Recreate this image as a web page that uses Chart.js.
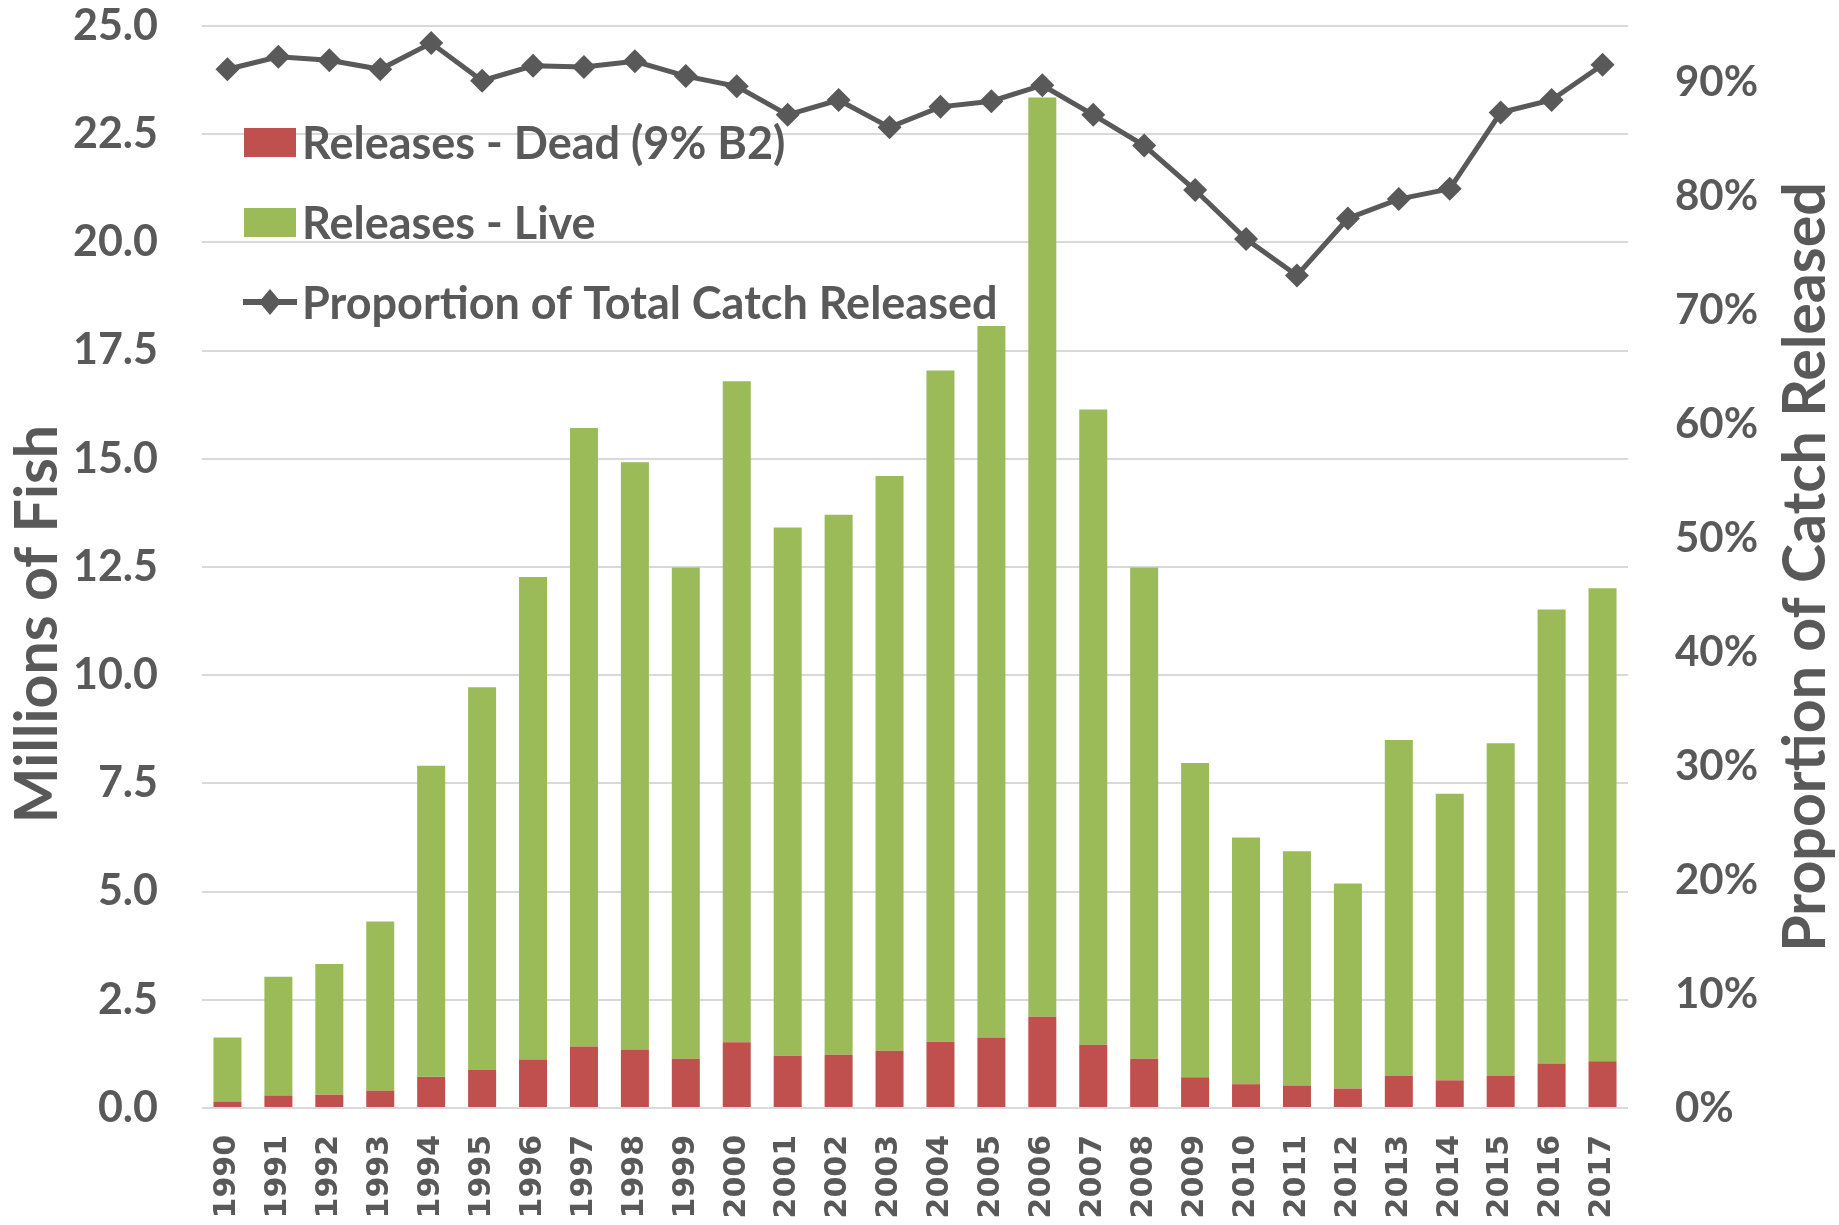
<!DOCTYPE html>
<html>
<head>
<meta charset="utf-8">
<title>Releases and proportion of catch released, 1990-2017</title>
<script src="https://cdn.jsdelivr.net/npm/chart.js@4.4.1/dist/chart.umd.min.js"></script>
<style>
  html, body { margin: 0; padding: 0; background: #fff; }
  #wrap { width: 1839px; height: 1225px; }
</style>
</head>
<body>
<div id="wrap"><canvas id="myChart" width="1839" height="1225"></canvas></div>
<script>
// data
const years = ['1990', '1991', '1992', '1993', '1994', '1995', '1996', '1997', '1998', '1999',
  '2000', '2001', '2002', '2003', '2004', '2005', '2006', '2007', '2008', '2009',
  '2010', '2011', '2012', '2013', '2014', '2015', '2016', '2017'];

// millions of fish
const deadReleases = [0.15, 0.28, 0.31, 0.40, 0.72, 0.88, 1.12, 1.42, 1.35, 1.14,
  1.52, 1.21, 1.23, 1.32, 1.53, 1.63, 2.11, 1.46, 1.14, 0.71,
  0.55, 0.52, 0.45, 0.75, 0.64, 0.74, 1.03, 1.08];
const liveReleases = [1.48, 2.75, 3.02, 3.91, 7.19, 8.84, 11.15, 14.29, 13.57, 11.35,
  15.27, 12.20, 12.48, 13.28, 15.51, 16.44, 21.24, 14.68, 11.35, 7.26,
  5.70, 5.41, 4.74, 7.75, 6.62, 7.69, 10.49, 10.93];

// share of total catch released
const proportionReleased = [0.912, 0.923, 0.920, 0.912, 0.935, 0.902, 0.915, 0.914, 0.919, 0.906,
  0.897, 0.872, 0.885, 0.861, 0.879, 0.884, 0.898, 0.872, 0.845, 0.806,
  0.763, 0.731, 0.781, 0.798, 0.807, 0.874, 0.885, 0.916];

const fishTicks = [0, 2.5, 5, 7.5, 10, 12.5, 15, 17.5, 20, 22.5, 25];
const shareTicks = [0, 0.1, 0.2, 0.3, 0.4, 0.5, 0.6, 0.7, 0.8, 0.9];

const textColor = '#595959';
const mainFont = "Lato, 'DejaVu Sans Condensed', sans-serif";

// axis titles + legend, drawn where the original has them
const overlay = {
  id: 'overlay',
  afterDraw(chart) {
    const ctx = chart.ctx;
    const area = chart.chartArea;
    ctx.save();
    ctx.fillStyle = textColor;
    ctx.textAlign = 'center';
    ctx.textBaseline = 'middle';
    ctx.font = 'bold 59px ' + mainFont;

    ctx.save();
    ctx.translate(38, 624);
    ctx.rotate(-Math.PI / 2);
    ctx.fillText('Millions of Fish', 0, 0);
    ctx.restore();

    ctx.save();
    ctx.translate(1806, (area.top + area.bottom) / 2);
    ctx.rotate(-Math.PI / 2);
    ctx.fillText('Proportion of Catch Released', 0, 0);
    ctx.restore();

    // legend
    ctx.textAlign = 'left';
    ctx.font = 'bold 45px ' + mainFont;
    chart.data.datasets.forEach(function (ds, i) {
      const y = 142 + i * 80;
      if (ds.type === 'line') {
        ctx.strokeStyle = ds.borderColor;
        ctx.lineWidth = 6;
        ctx.beginPath();
        ctx.moveTo(243, y);
        ctx.lineTo(297, y);
        ctx.stroke();
        ctx.fillStyle = ds.borderColor;
        ctx.beginPath();
        ctx.moveTo(270, y - 13);
        ctx.lineTo(281, y);
        ctx.lineTo(270, y + 13);
        ctx.lineTo(259, y);
        ctx.closePath();
        ctx.fill();
      } else {
        ctx.fillStyle = ds.backgroundColor;
        ctx.fillRect(244, y - 14, 52, 29);
      }
      ctx.fillStyle = textColor;
      ctx.fillText(ds.label, 302, y + 2);
    });
    ctx.restore();
  }
};

// keep the tick padding from pushing the plot area down
function noEdgePadding(scale) {
  scale.paddingTop = 0;
  scale.paddingBottom = 0;
}

const ctx = document.getElementById('myChart');

new Chart(ctx, {
  type: 'bar',
  data: {
    labels: years,
    datasets: [
      {
        label: 'Releases - Dead (9% B2)',
        data: deadReleases,
        backgroundColor: '#C0504D',
        yAxisID: 'y',
        order: 2
      },
      {
        label: 'Releases - Live',
        data: liveReleases,
        backgroundColor: '#9BBB59',
        yAxisID: 'y',
        order: 3
      },
      {
        type: 'line',
        label: 'Proportion of Total Catch Released',
        data: proportionReleased,
        yAxisID: 'y1',
        borderColor: '#595959',
        backgroundColor: '#595959',
        borderWidth: 5,
        pointStyle: 'rectRot',
        pointRadius: 12,
        pointBackgroundColor: '#595959',
        pointBorderWidth: 0,
        tension: 0,
        order: 1
      }
    ]
  },
  options: {
    responsive: false,
    animation: false,
    devicePixelRatio: 1,
    barPercentage: 0.55,
    categoryPercentage: 1,
    layout: { padding: { top: 26, left: 0, right: 0, bottom: 0 } },
    plugins: {
      legend: { display: false },
      tooltip: { enabled: false }
    },
    scales: {
      x: {
        stacked: true,
        grid: { display: false, drawTicks: false },
        border: { display: false },
        ticks: {
          autoSkip: false,
          minRotation: 90,
          maxRotation: 90,
          padding: 27,
          color: textColor,
          font: { family: "'DejaVu Sans'", weight: 'bold', size: 30 }
        },
        afterFit(scale) { scale.height = 117; }
      },
      y: {
        stacked: true,
        position: 'left',
        min: 0,
        max: 25,
        grid: { color: '#D9D9D9', lineWidth: 2, drawTicks: false },
        border: { display: false },
        afterBuildTicks(scale) { scale.ticks = fishTicks.map(v => ({ value: v })); },
        ticks: {
          padding: 44,
          color: textColor,
          font: { family: mainFont, weight: 'bold', size: 43, lineHeight: 1 },
          callback: v => v.toFixed(1)
        },
        afterFit(scale) { scale.width = 202; noEdgePadding(scale); }
      },
      y1: {
        position: 'right',
        min: 0,
        max: 0.95,
        grid: { display: false, drawTicks: false },
        border: { display: false },
        afterBuildTicks(scale) { scale.ticks = shareTicks.map(v => ({ value: v })); },
        ticks: {
          padding: 47,
          color: textColor,
          font: { family: mainFont, weight: 'bold', size: 42, lineHeight: 1 },
          callback: v => Math.round(v * 100) + '%'
        },
        afterFit(scale) { scale.width = 211; noEdgePadding(scale); }
      }
    }
  },
  plugins: [overlay]
});
</script>
</body>
</html>
